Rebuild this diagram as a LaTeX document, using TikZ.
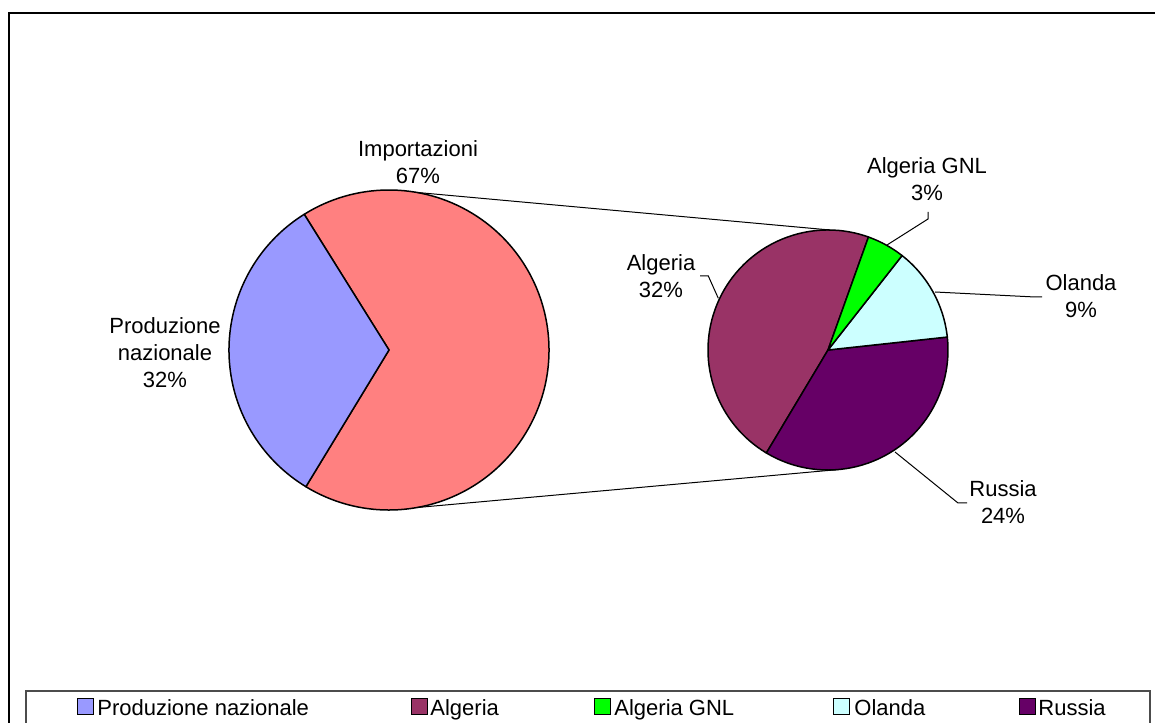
\documentclass[tikz,border=0pt]{standalone}
\usepackage{fontspec}
\setmainfont{Liberation Sans}
\begin{document}
\begin{tikzpicture}[x=0.5pt,y=0.5pt,
  slice/.style={draw=black,line width=0.75pt,line join=round},
  thinline/.style={draw=black,line width=0.5pt},
  lbl/.style={align=center,inner sep=0pt,font=\fontsize{11}{13.5}\selectfont},
  legkey/.style={draw=black,line width=0.5pt,minimum size=8pt,inner sep=0pt,anchor=south west},
  legtext/.style={inner sep=0pt,anchor=base west,font=\fontsize{11}{13.5}\selectfont}]
\useasboundingbox (0,0) rectangle (1155,722);
\clip (0,0) rectangle (1155,722);
\fill[white] (0,0) rectangle (1155,722);

% chart frame
\draw[black,line width=0.75pt] (9,-20) rectangle (1180,709);

\definecolor{cProd}{HTML}{9999FF}
\definecolor{cImp}{HTML}{FF8080}
\definecolor{cAlg}{HTML}{993366}
\definecolor{cGnl}{HTML}{00FF00}
\definecolor{cOla}{HTML}{CCFFFF}
\definecolor{cRus}{HTML}{660066}

% pie centres
\coordinate (L) at (389,372);
\coordinate (R) at (828,372);

% main pie
\filldraw[slice,fill=cImp] (L) -- ++(238.7:160) arc[start angle=238.7,end angle=482,radius=160] -- cycle;
\filldraw[slice,fill=cProd] (L) -- ++(122:160) arc[start angle=122,end angle=238.7,radius=160] -- cycle;

% secondary pie
\filldraw[slice,fill=cAlg] (R) -- ++(70.3:120) arc[start angle=70.3,end angle=239.1,radius=120] -- cycle;
\filldraw[slice,fill=cRus] (R) -- ++(239.1:120) arc[start angle=239.1,end angle=366.2,radius=120] -- cycle;
\filldraw[slice,fill=cOla] (R) -- ++(6.2:120) arc[start angle=6.2,end angle=51.9,radius=120] -- cycle;
\filldraw[slice,fill=cGnl] (R) -- ++(51.9:120) arc[start angle=51.9,end angle=70.3,radius=120] -- cycle;

% connector lines between the pies
\path (L) ++(80:160) coordinate (Ltop);
\path (L) ++(-80:160) coordinate (Lbot);
\path (R) ++(89:120) coordinate (Rtop);
\path (R) ++(-85:120) coordinate (Rbot);
\draw[thinline] (Ltop) -- (Rtop);
\draw[thinline] (Lbot) -- (Rbot);

% data labels
\node[lbl] (limp) at (418,560) {Importazioni\\67\%};
\node[lbl] (lprod) at (165,369) {Produzione\\nazionale\\32\%};
\node[lbl] (lalg) at (661,446) {Algeria\\32\%};
\node[lbl] (lgnl) at (927,543) {Algeria GNL\\3\%};
\node[lbl] (lola) at (1081,426) {Olanda\\9\%};
\node[lbl] (lrus) at (1003,220) {Russia\\24\%};

% leader lines
\coordinate (aAlg) at (700,446);
\coordinate (aGnl) at (928,510);
\coordinate (aOla) at (1042,425);
\coordinate (aRus) at (967,219);
\draw[thinline] (718.3,423.7) -- (708.3,446) -- (aAlg);
\draw[thinline] (887,477) -- (928,503) -- (aGnl);
\draw[thinline] (935,430) -- (1035,425) -- (aOla);
\draw[thinline] (895,270) -- (958,219) -- (aRus);

% legend
\draw[black!70,line width=0.75pt] (26,-20) rectangle (1150,31);
\node[legkey,fill=cProd] (k1) at (77,7) {};
\node[legtext] (t1) at (97,7) {Produzione nazionale};
\node[legkey,fill=cAlg] (k2) at (411,7) {};
\node[legtext] (t2) at (430,7) {Algeria};
\node[legkey,fill=cGnl] (k3) at (594,7) {};
\node[legtext] (t3) at (614,7) {Algeria GNL};
\node[legkey,fill=cOla] (k4) at (833,7) {};
\node[legtext] (t4) at (854,7) {Olanda};
\node[legkey,fill=cRus] (k5) at (1019,7) {};
\node[legtext] (t5) at (1038,7) {Russia};
\end{tikzpicture}
\end{document}
